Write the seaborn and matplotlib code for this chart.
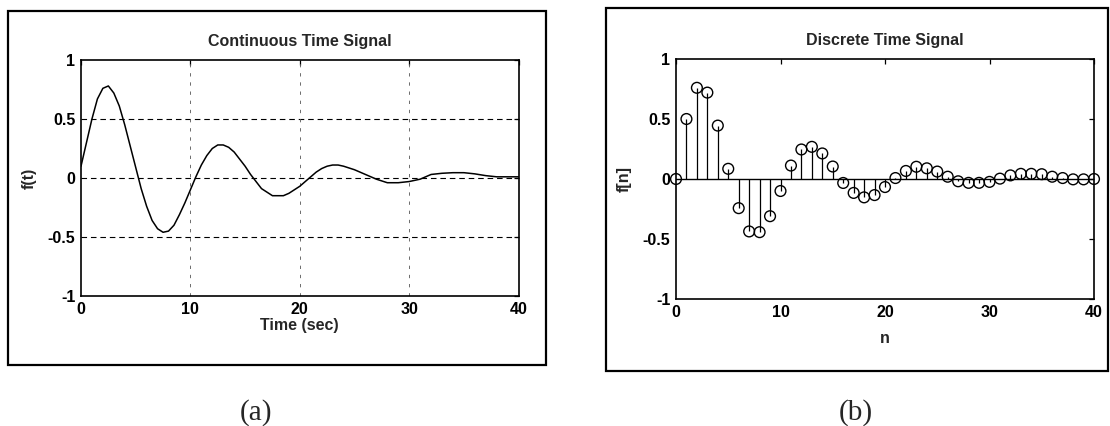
import matplotlib
matplotlib.use("Agg")
import matplotlib.pyplot as plt
from matplotlib.patches import Rectangle
from matplotlib.ticker import FuncFormatter
import pandas as pd
import seaborn as sns

# Continuous-time signal f(t), read at half-second steps then one-second steps
t_sec = [0, 0.5, 1, 1.5, 2, 2.5, 3, 3.5, 4, 4.5, 5, 5.5, 6, 6.5, 7, 7.5, 8, 8.5,
         9, 9.5, 10, 10.5, 11, 11.5, 12, 12.5, 13, 13.5, 14, 14.5, 15, 15.5, 16,
         16.5, 17, 17.5, 18, 18.5, 19, 19.5, 20, 20.5, 21, 21.5, 22, 22.5, 23,
         23.5, 24, 25, 26, 27, 28, 29, 30, 31, 32, 33, 34, 35, 36, 37, 38, 39, 40]
f_t = [0.10, 0.30, 0.50, 0.67, 0.76, 0.78, 0.72, 0.61, 0.45, 0.27, 0.09, -0.09,
       -0.24, -0.36, -0.43, -0.46, -0.45, -0.40, -0.31, -0.21, -0.10, 0.01,
       0.11, 0.19, 0.25, 0.28, 0.28, 0.26, 0.22, 0.16, 0.10, 0.03, -0.03, -0.09,
       -0.12, -0.15, -0.15, -0.15, -0.13, -0.10, -0.07, -0.03, 0.01, 0.05, 0.08,
       0.10, 0.11, 0.11, 0.10, 0.07, 0.03, -0.01, -0.04, -0.04, -0.03, -0.01,
       0.03, 0.04, 0.045, 0.045, 0.035, 0.02, 0.01, 0.01, 0.01]

# Discrete-time samples f[n]
n_idx = list(range(41))
f_n = [0.0, 0.50, 0.76, 0.72, 0.445, 0.085, -0.243, -0.437, -0.443, -0.31,
       -0.10, 0.112, 0.246, 0.268, 0.213, 0.104, -0.033, -0.116, -0.153, -0.134,
       -0.067, 0.008, 0.067, 0.102, 0.089, 0.062, 0.019, -0.019, -0.032, -0.032,
       -0.024, 0.003, 0.030, 0.043, 0.043, 0.040, 0.019, 0.008, -0.003, -0.003,
       0.0]

x_ticks = [0, 10, 20, 30, 40]
y_ticks = [-1, -0.5, 0, 0.5, 1]

titles = ["Continuous Time Signal", "Discrete Time Signal"]
x_labels = ["Time (sec)", "n"]
y_labels = ["f(t)", "f[n]"]
captions = ["(a)", "(b)"]

sns.set_theme(style="white")
plt.rcParams["font.family"] = ["Liberation Sans", "DejaVu Sans"]
plt.rcParams["axes.unicode_minus"] = False

W, H = 1110, 426
fig = plt.figure(figsize=(W / 100, H / 100), dpi=100)
fig.patch.set_facecolor("white")


def px_rect(x0, y0, x1, y1):
    """Figure-fraction rectangle from pixel corners (top-left origin)."""
    return [x0 / W, (H - y1) / H, (x1 - x0) / W, (y1 - y0) / H]


# Frames around each panel
for (x0, y0, x1, y1) in [(8, 11, 546, 365), (606, 8, 1108, 371)]:
    l, b, w, h = px_rect(x0, y0, x1, y1)
    fig.add_artist(Rectangle((l, b), w, h, transform=fig.transFigure,
                             fill=False, edgecolor="black", linewidth=1.6))

ax1 = fig.add_axes(px_rect(81, 60, 518.6, 296))
ax2 = fig.add_axes(px_rect(676, 59, 1094, 299))

fmt = FuncFormatter(lambda v, pos: f"{v:g}")
FS = 11.5
font_kw = dict(fontsize=FS, fontweight="bold")

for ax, title in zip([ax1, ax2], titles):
    ax.set_xlim(0, 40)
    ax.set_ylim(-1, 1)
    ax.set_xticks(x_ticks)
    ax.set_yticks(y_ticks)
    ax.yaxis.set_major_formatter(fmt)
    ax.tick_params(direction="in", length=3.5, width=0.9, top=True, right=True,
                   labelsize=FS, colors="black", pad=4)
    for lab in ax.get_xticklabels() + ax.get_yticklabels():
        lab.set_fontweight("bold")
    for sp in ax.spines.values():
        sp.set_color("black")
        sp.set_linewidth(1.2)
    ax.set_title(title, pad=10, **font_kw)

# (a) continuous signal with grid
for yv in [-0.5, 0, 0.5]:
    ax1.axhline(yv, color="black", linewidth=0.8, linestyle=(0, (5, 3.5)), zorder=1)
for xv in [10, 20, 30]:
    ax1.axvline(xv, color="#555555", linewidth=0.6, linestyle=(0, (4, 7)), zorder=1)

cont = pd.DataFrame({"t": t_sec, "f": f_t})
sns.lineplot(data=cont, x="t", y="f", ax=ax1, color="black", linewidth=1.1,
             zorder=3)
ax1.set_xlabel(x_labels[0], labelpad=1, **font_kw)
ax1.set_ylabel(y_labels[0], labelpad=8, **font_kw)

# (b) discrete signal as stems
disc = pd.DataFrame({"n": n_idx, "f": f_n})
ax2.axhline(0, color="black", linewidth=1.0, zorder=1)
ax2.vlines(disc["n"], 0, disc["f"], color="black", linewidth=0.9, zorder=2)
sns.scatterplot(data=disc, x="n", y="f", ax=ax2, marker="o", s=60,
                facecolors="none", edgecolor="black", linewidth=1.0,
                zorder=3, clip_on=False)
ax2.set_xlabel(x_labels[1], labelpad=8, **font_kw)
ax2.set_ylabel(y_labels[1], labelpad=8, **font_kw)

# Panel captions
for cx, cap in zip([256, 856], captions):
    fig.text(cx / W, 1 - 420 / H, cap, ha="center", va="baseline",
             fontsize=21, family=["Liberation Serif", "DejaVu Serif"])

fig.savefig("out.png", dpi=100, facecolor="white")
